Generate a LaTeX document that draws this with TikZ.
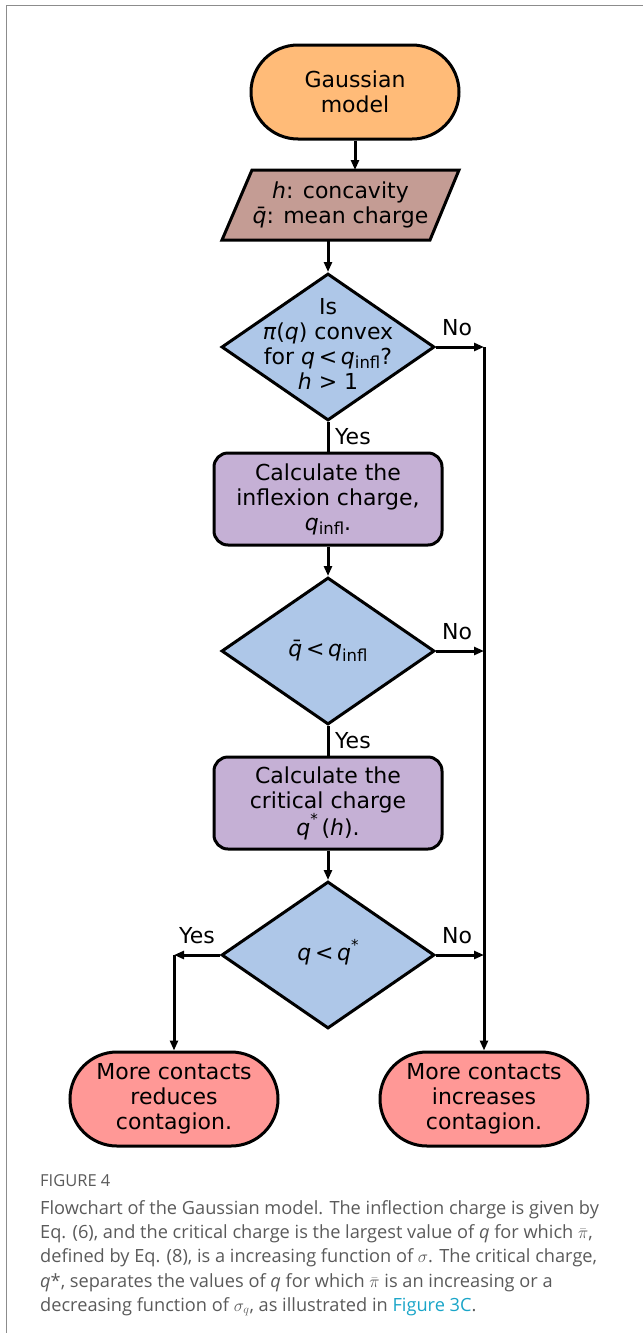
\documentclass[tikz,border=0pt]{standalone}
\usepackage{fontspec}
\setmainfont{DejaVu Sans}
\newfontfamily\capfont{Open Sans}
\usetikzlibrary{shapes.geometric,shapes.misc,arrows.meta}
\definecolor{cOrange}{HTML}{FFBB78}
\definecolor{cBrown}{HTML}{C49C94}
\definecolor{cBlue}{HTML}{AEC7E8}
\definecolor{cPurple}{HTML}{C5B0D5}
\definecolor{cRed}{HTML}{FF9896}
\definecolor{cFrame}{HTML}{8C8C8C}
\definecolor{cCap}{HTML}{5A5A5A}
\definecolor{cLink}{HTML}{1AA5C8}
\newcommand\qi{\textit{q}}
\newcommand\infl{\raisebox{-0.35ex}{\fontsize{16.5}{16.5}\selectfont infl}}
\newcommand\qstar{\textit{q}\raisebox{0.85ex}{\fontsize{15}{15}\selectfont *}}
\tikzset{
  txt/.style={font=\fontsize{22}{25}\selectfont, align=center, inner sep=0pt},
  term/.style={rounded rectangle, draw, line width=3pt, minimum width=208pt, minimum height=94pt, inner sep=0pt, txt},
  dia/.style={diamond, draw, line width=3pt, fill=cBlue, minimum width=213pt, minimum height=147pt, inner sep=0pt},
  proc/.style={rectangle, rounded corners=14pt, draw, line width=3pt, fill=cPurple, minimum width=228pt, minimum height=92pt, inner sep=0pt, txt},
  conn/.style={line width=3pt},
  arr/.style={line width=3pt, -{Triangle[length=10pt,width=8pt]}},
  lbl/.style={font=\fontsize{22}{25}\selectfont, inner sep=0pt},
  capt/.style={font=\capfont\fontsize{18.2}{24.3}\selectfont, text=cCap, anchor=north west, inner sep=0pt, align=left}
}
\begin{document}
\begin{tikzpicture}[x=1pt,y=-1pt]
\useasboundingbox (0,0) rectangle (643,1333);
\draw[cFrame, line width=1.5pt] (6.5,1333) -- (6.5,5.5) -- (643,5.5);

% nodes
\node[term, fill=cOrange] (gm) at (355,92) {Gaussian\\model};
\draw[line width=3pt, fill=cBrown] (252,170) -- (459,170) -- (430,240) -- (222,240) -- cycle;
\node[txt] (par) at (340.5,205) {\textit{h}: concavity\\\={\textit{q}}: mean charge};
\coordinate (parTop) at (355,170);
\coordinate (parBot) at (328,240);

\node[dia] (d1) at (328,347) {};
\node[txt] (d1t) at (328,344) {Is\\\textit{π}(\qi) convex\\for \qi\,\textit{<}\,\qi\infl?\\\textit{h} > 1};

\node[proc] (p1) at (328,499) {Calculate the\\inflexion charge,\\\qi\infl.};

\node[dia] (d2) at (328,651) {};
\node[txt] (d2t) at (328,651) {\={\textit{q}}\,\textit{<}\,\qi\infl};

\node[proc] (p2) at (328,803) {Calculate the\\critical charge\\\qstar\,(\textit{h}).};

\node[dia] (d3) at (328,955) {};
\node[txt] (d3t) at (328,952) {\qi\,\textit{<}\,\qstar};

\node[term, fill=cRed] (t1) at (174,1099) {More contacts\\reduces\\contagion.};
\node[term, fill=cRed] (t2) at (484,1099) {More contacts\\increases\\contagion.};

\coordinate (r1) at (484,347);
\coordinate (r2) at (484,651);
\coordinate (r3) at (484,955);
\coordinate (l3) at (174,955);

% connectors
\draw[arr] (gm.south) -- (parTop);
\draw[arr] (parBot) -- (d1.north);
\draw[conn] (d1.south) -- (p1.north);
\draw[arr] (p1.south) -- (d2.north);
\draw[conn] (d2.south) -- (p2.north);
\draw[arr] (p2.south) -- (d3.north);
\draw[arr] (d1.east) -- (r1);
\draw[arr] (d2.east) -- (r2);
\draw[arr] (d3.east) -- (r3);
\draw[arr] (r1) -- (t2.north);
\draw[arr] (d3.west) -- (l3);
\draw[arr] (l3) -- (t1.north);

% labels
\node[lbl] (no1) at (457,328) {No};
\node[lbl] (no2) at (457,632) {No};
\node[lbl] (no3) at (457,936) {No};
\node[lbl, anchor=west] (yes1) at (335,437) {Yes};
\node[lbl, anchor=west] (yes2) at (335,741) {Yes};
\node[lbl] (yes3) at (197,936) {Yes};

% caption
\node[capt, font=\capfont\fontsize{16.5}{18}\selectfont, anchor=base west] (fig) at (40,1186) {FIGURE 4};
\node[capt] (cap) at (40,1200) {Flowchart of the Gaussian model. The inflection charge is given by\\
Eq. (6), and the critical charge is the largest value of \textit{q} for which $\bar\pi$,\\
defined by Eq. (8), is a increasing function of $\sigma$. The critical charge,\\
\textit{q}*, separates the values of \textit{q} for which $\bar\pi$ is an increasing or a\\
decreasing function of $\sigma_q$, as illustrated in \textcolor{cLink}{Figure 3C}.};
\end{tikzpicture}
\end{document}
